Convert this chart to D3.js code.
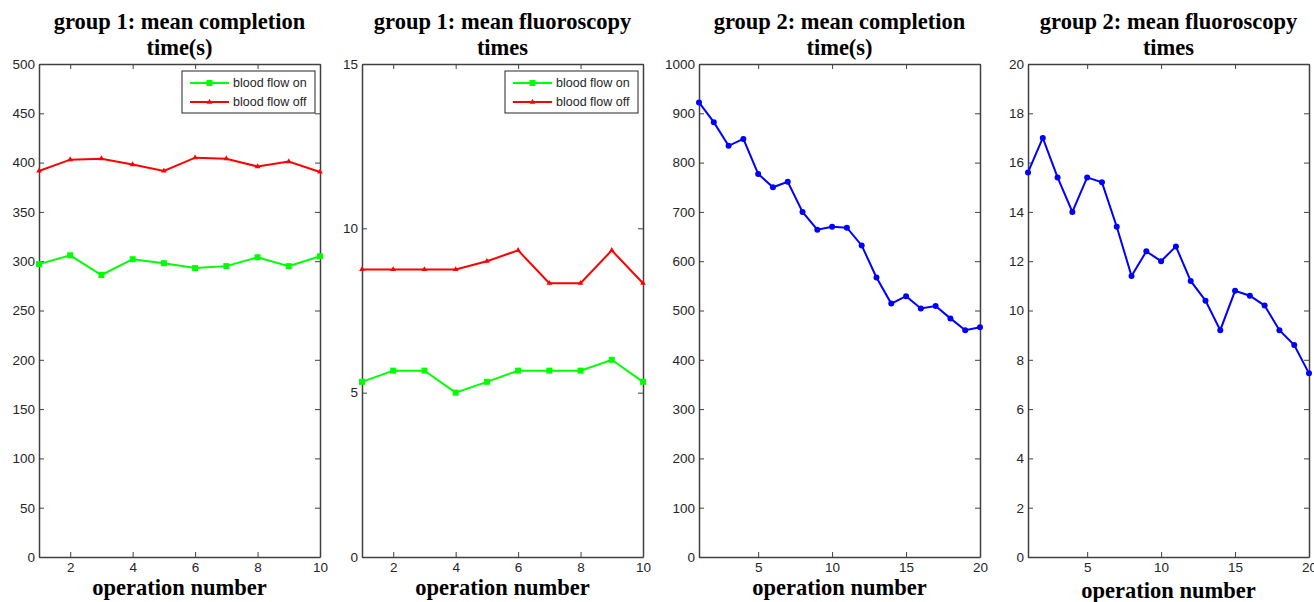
<!DOCTYPE html>
<html>
<head>
<meta charset="utf-8">
<script src="https://cdn.jsdelivr.net/npm/d3@7"></script>
<style>
  body { margin: 0; background: #fff; }
  svg { display: block; }
</style>
</head>
<body>
<svg></svg>
<script>
// operation numbers
const opsGroup1 = [1, 2, 3, 4, 5, 6, 7, 8, 9, 10];
const opsGroup2 = [1, 2, 3, 4, 5, 6, 7, 8, 9, 10, 11, 12, 13, 14, 15, 16, 17, 18, 19, 20];

// group 1: mean completion time(s)
const g1TimeOn = [297, 306, 286, 302, 298, 293, 295, 304, 295, 305];
const g1TimeOff = [391.5, 403, 404, 398, 391.5, 405, 404, 396, 401, 390.5];

// group 1: mean fluoroscopy times
const g1FluoroOn = [5.33, 5.67, 5.67, 5, 5.33, 5.67, 5.67, 5.67, 6, 5.33];
const g1FluoroOff = [8.75, 8.75, 8.75, 8.75, 9, 9.33, 8.33, 8.33, 9.33, 8.33];

// group 2
const g2Time = [922, 882, 834, 848, 777, 750, 761, 700, 664, 670, 668, 632, 567, 514, 529, 504, 509, 484, 460, 466];
const g2Fluoro = [15.6, 17, 15.4, 14, 15.4, 15.2, 13.4, 11.4, 12.4, 12, 12.6, 11.2, 10.4, 9.2, 10.8, 10.6, 10.2, 9.2, 8.6, 7.45];

// tick labels
const xTicksG1 = [2, 4, 6, 8, 10];
const xTicksG2 = [5, 10, 15, 20];
const yTicksTime1 = [0, 50, 100, 150, 200, 250, 300, 350, 400, 450, 500];
const yTicksFluoro1 = [0, 5, 10, 15];
const yTicksTime2 = [0, 100, 200, 300, 400, 500, 600, 700, 800, 900, 1000];
const yTicksFluoro2 = [0, 2, 4, 6, 8, 10, 12, 14, 16, 18, 20];

const legendNames = ["blood flow on", "blood flow off"];

const width = 1314;
const height = 602;

const svg = d3.select("svg")
    .attr("width", width)
    .attr("height", height);

const panels = [
    { left: 39, title: ["group 1: mean completion", "time(s)"], x: opsGroup1, xDomain: [1, 10], xTicks: xTicksG1,
      yDomain: [0, 500], yTicks: yTicksTime1, labelY: 595,
      series: [{ values: g1TimeOn, color: "#00ff00", marker: "square" }, { values: g1TimeOff, color: "#ff0000", marker: "triangle" }],
      legend: true },
    { left: 362, title: ["group 1: mean fluoroscopy", "times"], x: opsGroup1, xDomain: [1, 10], xTicks: xTicksG1,
      yDomain: [0, 15], yTicks: yTicksFluoro1, labelY: 595,
      series: [{ values: g1FluoroOn, color: "#00ff00", marker: "square" }, { values: g1FluoroOff, color: "#ff0000", marker: "triangle" }],
      legend: true },
    { left: 699, title: ["group 2: mean completion", "time(s)"], x: opsGroup2, xDomain: [1, 20], xTicks: xTicksG2,
      yDomain: [0, 1000], yTicks: yTicksTime2, labelY: 595,
      series: [{ values: g2Time, color: "#0000ff", marker: "dot" }] },
    { left: 1028, title: ["group 2: mean fluoroscopy", "times"], x: opsGroup2, xDomain: [1, 20], xTicks: xTicksG2,
      yDomain: [0, 20], yTicks: yTicksFluoro2, labelY: 598,
      series: [{ values: g2Fluoro, color: "#0000ff", marker: "dot" }] }
];

const plotW = 281;
const plotTop = 64;
const plotBottom = 557;
const axisColor = "#404040";
const tickFont = "Arial, 'Liberation Sans', sans-serif";
const titleFont = "'Times New Roman', 'Liberation Serif', serif";

function drawMarker(g, kind, color) {
    if (kind === "square") {
        g.append("rect").attr("x", -3).attr("y", -3).attr("width", 6).attr("height", 6).attr("fill", color);
    } else if (kind === "triangle") {
        g.append("path").attr("d", d3.symbol(d3.symbolTriangle, 14)()).attr("fill", color);
    } else {
        g.append("circle").attr("r", 3).attr("fill", color);
    }
}

panels.forEach(p => {
    const x = d3.scaleLinear().domain(p.xDomain).range([p.left, p.left + plotW]);
    const y = d3.scaleLinear().domain(p.yDomain).range([plotBottom, plotTop]);
    const g = svg.append("g");

    // axes with inward ticks (box style)
    const styleAxis = sel => {
        sel.select(".domain").attr("stroke", axisColor).attr("stroke-width", 1.5);
        sel.selectAll(".tick line").attr("stroke", axisColor).attr("stroke-width", 1);
        sel.selectAll("text").attr("fill", "#262626").style("font-family", tickFont).style("font-size", "13.5px");
    };

    g.append("g")
        .attr("transform", `translate(0,${plotBottom})`)
        .call(d3.axisBottom(x).tickValues(p.xTicks).tickFormat(d3.format("d")).tickSizeInner(-5).tickSizeOuter(0).tickPadding(5))
        .call(styleAxis);
    g.append("g")
        .attr("transform", `translate(0,${plotTop})`)
        .call(d3.axisTop(x).tickValues(p.xTicks).tickSizeInner(-5).tickSizeOuter(0).tickFormat(""))
        .call(styleAxis);
    g.append("g")
        .attr("transform", `translate(${p.left},0)`)
        .call(d3.axisLeft(y).tickValues(p.yTicks).tickFormat(d3.format("d")).tickSizeInner(-5).tickSizeOuter(0).tickPadding(4))
        .call(styleAxis);
    g.append("g")
        .attr("transform", `translate(${p.left + plotW},0)`)
        .call(d3.axisRight(y).tickValues(p.yTicks).tickSizeInner(-5).tickSizeOuter(0).tickFormat(""))
        .call(styleAxis);

    // lines and markers
    p.series.forEach(s => {
        const pts = p.x.map((v, i) => [v, s.values[i]]);
        g.append("path")
            .datum(pts)
            .attr("d", d3.line().x(d => x(d[0])).y(d => y(d[1])))
            .attr("fill", "none")
            .attr("stroke", s.color)
            .attr("stroke-width", 2);
        pts.forEach(d => {
            const m = g.append("g").attr("transform", `translate(${x(d[0])},${y(d[1])})`);
            drawMarker(m, s.marker, s.color);
        });
    });

    // title
    p.title.forEach((line, i) => {
        g.append("text")
            .attr("x", p.left + plotW / 2)
            .attr("y", 29 + i * 26)
            .attr("text-anchor", "middle")
            .style("font-family", titleFont)
            .style("font-weight", "bold")
            .style("font-size", "22.5px")
            .text(line);
    });

    // x label
    g.append("text")
        .attr("x", p.left + plotW / 2)
        .attr("y", p.labelY)
        .attr("text-anchor", "middle")
        .style("font-family", titleFont)
        .style("font-weight", "bold")
        .style("font-size", "22.5px")
        .text("operation number");

    // legend
    if (p.legend) {
        const lx = p.left + plotW - 138;
        const ly = 71;
        const lg = g.append("g");
        lg.append("rect")
            .attr("x", lx).attr("y", ly)
            .attr("width", 133).attr("height", 42)
            .attr("fill", "#fff")
            .attr("stroke", "#262626")
            .attr("stroke-width", 1);
        p.series.forEach((s, i) => {
            const yy = ly + 12 + i * 19;
            lg.append("line")
                .attr("x1", lx + 8).attr("x2", lx + 47)
                .attr("y1", yy).attr("y2", yy)
                .attr("stroke", s.color).attr("stroke-width", 2);
            const m = lg.append("g").attr("transform", `translate(${lx + 27.5},${yy})`);
            drawMarker(m, s.marker, s.color);
            lg.append("text")
                .attr("x", lx + 51).attr("y", yy + 4)
                .style("font-family", tickFont)
                .style("font-size", "12.5px")
                .attr("fill", "#262626")
                .text(legendNames[i]);
        });
    }
});
</script>
</body>
</html>
